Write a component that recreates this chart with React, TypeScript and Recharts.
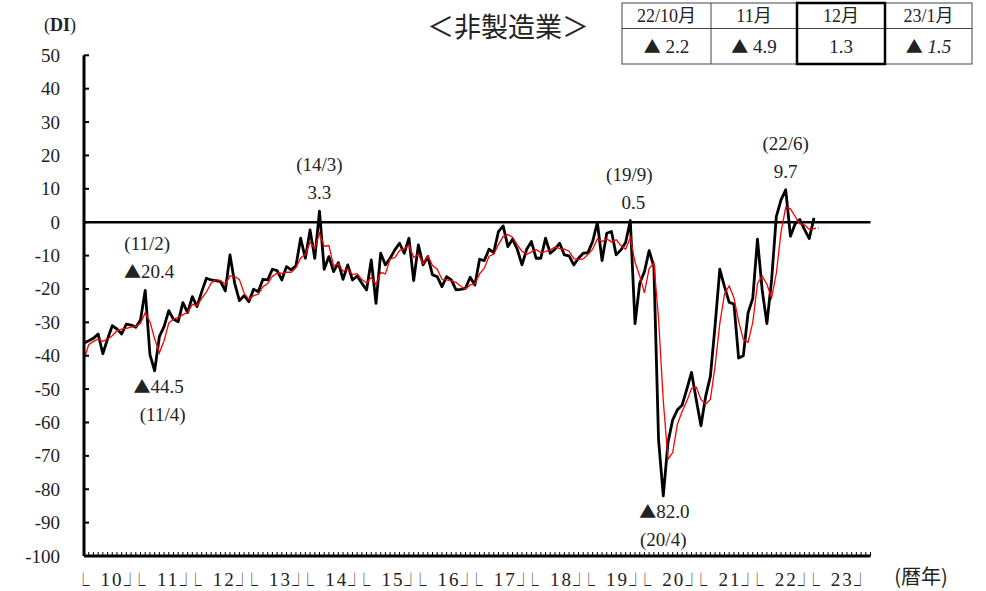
import React from 'react';
import { LineChart, Line, XAxis, YAxis, ReferenceLine, ReferenceDot } from 'recharts';

const W = 986;
const H = 591;
const PLOT_L = 84;
const PLOT_R = 870.5;
const SERIF = "'Liberation Serif', 'DejaVu Serif', 'Noto Sans CJK JP', serif";
const JP = "'Noto Sans CJK JP', sans-serif";

// 暦年ラベル（2010〜2023）
const yearLabels = ['10', '11', '12', '13', '14', '15', '16', '17', '18', '19', '20', '21', '22', '23'];

// 業況判断DI（非製造業）月次：2010/1〜2022/12
const actualDI = [
  -36.2, -35.5, -34.8, -33.5, -39.4, -35.0, -31.0, -32.0, -33.5, -30.5, -30.8, -31.5,
  -29.3, -20.4, -39.7, -44.5, -34.3, -31.3, -26.5, -29.1, -29.8, -24.1, -27.1, -22.3,
  -25.3, -20.8, -16.8, -17.3, -17.5, -17.8, -20.6, -9.8, -18.3, -23.5, -22.0, -23.8,
  -20.1, -20.8, -17.1, -17.3, -14.1, -14.5, -17.3, -13.3, -14.3, -13.1, -4.8, -10.8,
  -2.3, -10.8, 3.3, -14.1, -10.3, -14.8, -12.1, -17.1, -12.8, -17.3, -16.1, -18.3,
  -20.3, -11.3, -24.3, -9.3, -12.8, -10.8, -8.3, -6.3, -9.3, -4.8, -17.5, -6.8,
  -12.8, -10.3, -15.8, -16.3, -19.3, -16.3, -17.3, -20.3, -20.1, -19.8, -16.5, -18.8,
  -11.1, -11.5, -8.1, -9.1, -2.8, -1.1, -7.3, -5.1, -8.1, -12.8, -8.1, -5.8,
  -10.8, -10.8, -4.8, -9.3, -8.1, -6.3, -9.8, -10.1, -12.8, -10.8, -9.3, -9.1,
  -5.8, -0.1, -11.5, -3.3, -2.8, -9.8, -8.3, -6.1, 0.5, -30.4, -18.3, -14.8,
  -8.5, -13.3, -65.2, -82.0, -66.0, -59.2, -56.2, -54.8, -50.0, -45.0, -53.2, -61.0,
  -52.2, -46.2, -31.0, -14.1, -19.3, -24.0, -24.5, -40.7, -40.0, -27.2, -22.8, -5.1,
  -20.3, -30.4, -17.3, 1.7, 6.7, 9.7, -4.2, -0.5, 0.8, -2.2, -4.9, 1.3,
];

// 3か月移動平均（最後の1点は23/1月見通し込み）
const movingAvgDI = [
  -41.0, -36.7, -35.7, -35.0, -35.7, -35.0, -34.0, -32.5, -32.0, -31.8, -31.4, -31.2,
  -30.3, -27.1, -29.8, -34.9, -39.2, -35.5, -30.2, -29.0, -28.5, -27.7, -27.0, -24.6,
  -25.0, -22.8, -20.9, -18.3, -17.2, -17.5, -18.6, -16.1, -16.2, -17.2, -21.3, -23.1,
  -22.0, -21.6, -19.3, -18.4, -16.2, -15.3, -15.3, -15.0, -15.0, -13.6, -10.7, -9.6,
  -6.0, -8.0, -3.3, -7.2, -7.0, -13.1, -12.4, -14.7, -14.0, -15.7, -15.4, -17.2,
  -18.2, -16.6, -18.6, -15.0, -15.5, -11.0, -10.6, -8.5, -8.0, -6.8, -10.5, -9.7,
  -12.4, -10.0, -13.0, -14.1, -17.1, -17.3, -17.6, -18.0, -19.2, -20.1, -18.8, -18.4,
  -15.5, -13.8, -10.2, -9.6, -6.7, -4.3, -3.7, -4.5, -6.8, -8.7, -9.7, -8.9,
  -8.2, -9.1, -8.8, -8.3, -7.4, -7.9, -8.1, -8.7, -10.9, -11.2, -11.0, -9.7,
  -8.1, -5.0, -5.8, -5.0, -5.9, -5.3, -7.0, -8.1, -4.6, -12.0, -16.1, -21.2,
  -13.9, -12.2, -29.0, -53.5, -71.0, -69.0, -60.5, -56.7, -53.6, -49.8, -49.4, -53.1,
  -54.5, -53.1, -43.1, -30.4, -21.5, -19.1, -22.6, -29.7, -35.1, -36.0, -30.0, -18.4,
  -16.1, -18.6, -22.7, -15.3, -3.0, 4.5, 4.0, 1.7, -0.5, -0.8, -2.1, -1.9,
  -1.7,
];

const yTicks = [50, 40, 30, 20, 10, 0, -10, -20, -30, -40, -50, -60, -70, -80, -90, -100];

const tableMonths = ['22/10月', '11月', '12月', '23/1月'];
const tableValues = [-2.2, -4.9, 1.3, -1.5];

// 山・谷の注記（index は 2010/1 からの月数）
const peakNotes = [
  { i: 13, date: '(11/2)', below: false, dx: 4, ddx: 2 },
  { i: 15, date: '(11/4)', below: true, dx: 4, ddx: 8 },
  { i: 50, date: '(14/3)', below: false, dx: 0, ddx: 0 },
  { i: 116, date: '(19/9)', below: false, dx: 3, ddx: -1 },
  { i: 123, date: '(20/4)', below: true, dx: 1, ddx: 0 },
  { i: 149, date: '(22/6)', below: false, dx: 0, ddx: 0 },
];

const MONTHS = 168;
const monthTicks = Array.from({ length: MONTHS }, (_, i) => i);
const last = actualDI.length - 1;
const rows = movingAvgDI.map((a, i) => ({
  i,
  actual: i <= last ? actualDI[i] : null,
  avg: i <= last ? a : null,
  avgFcst: i >= last ? a : null,
}));

// px per month step / per year label slot
const PX_M = (PLOT_R - PLOT_L) / (MONTHS - 1);
const PX_Y = (PLOT_R - PLOT_L) / yearLabels.length;

const Tri = () => <tspan fontFamily={JP} fontSize={17}>▲</tspan>;

const fmt = (v: number) => Math.abs(v).toFixed(1);

const YTick = ({ x, y, payload }: any) => (
  <g>
    <line x1={x} x2={x + 5} y1={y} y2={y} stroke="#000" strokeWidth={2} />
    <text x={x - 24} y={y} dy={6.5} textAnchor="end" fontFamily={SERIF} fontSize={19} fill="#222">
      {payload.value}
    </text>
  </g>
);

const Bracket = ({ x, y, ch }: { x: number; y: number; ch: string }) => (
  <g transform={`translate(${x},${y}) scale(0.85,1.7)`}>
    <text x={0} y={5.7} textAnchor="middle" fontFamily={JP} fontSize={15} fill="#222">
      {ch}
    </text>
  </g>
);

// monthly comb ticks, plus the year label at the start of each year
const MonthTick = ({ x, y, payload }: any) => {
  const i = payload.value;
  const comb = <line x1={x} x2={x} y1={y} y2={y - 4} stroke="#000" strokeWidth={1} />;
  if (i % 12 !== 0) return comb;
  const k = i / 12;
  const xL = x - i * PX_M + k * PX_Y;
  return (
    <g>
      {comb}
      <Bracket x={xL - 1} y={y + 29} ch="└" />
      <text x={xL + 28} y={y + 30} textAnchor="middle" fontFamily={SERIF} fontSize={19} letterSpacing={2} fill="#222">
        {yearLabels[k]}
      </text>
      <Bracket x={xL + 46} y={y + 29} ch="┘" />
    </g>
  );
};

const PeakLabel = ({ cx, cy, note }: any) => {
  const v = actualDI[note.i];
  const vy = note.below ? cy + 22 : cy - 12;
  const dy = note.below ? cy + 50 : cy - 40;
  return (
    <g fontFamily={SERIF} fontSize={19} fill="#222">
      <text x={cx + note.dx} y={vy} textAnchor="middle">
        {v < 0 ? <Tri /> : null}
        {fmt(v)}
      </text>
      <text x={cx + note.ddx} y={dy} textAnchor="middle">{note.date}</text>
    </g>
  );
};

const colX = [622, 711, 797, 885, 972];
const rowY = [3, 28.5, 64];

const SummaryTable = () => (
  <g>
    <rect x={colX[0]} y={rowY[0]} width={colX[4] - colX[0]} height={rowY[2] - rowY[0]} fill="#fff" stroke="#444" strokeWidth={1} />
    <line x1={colX[0]} x2={colX[4]} y1={rowY[1]} y2={rowY[1]} stroke="#444" strokeWidth={1} />
    {colX.slice(1, 4).map((x) => (
      <line key={x} x1={x} x2={x} y1={rowY[0]} y2={rowY[2]} stroke="#444" strokeWidth={1} />
    ))}
    <rect x={colX[2]} y={rowY[0]} width={colX[3] - colX[2]} height={rowY[2] - rowY[0]} fill="none" stroke="#000" strokeWidth={2.5} />
    {tableMonths.map((m, k) => (
      <text key={m} x={(colX[k] + colX[k + 1]) / 2} y={22} textAnchor="middle" fontFamily={SERIF} fontSize={18} fill="#222">
        {m}
      </text>
    ))}
    {tableValues.map((v, k) => (
      <text key={k} x={(colX[k] + colX[k + 1]) / 2} y={53} textAnchor="middle" fontFamily={SERIF} fontSize={19} fill="#222">
        {v < 0 ? <Tri /> : null}
        {v < 0 ? ' ' : ''}
        <tspan fontStyle={k === tableValues.length - 1 ? 'italic' : 'normal'}>{fmt(v)}</tspan>
      </text>
    ))}
  </g>
);

export default function App() {
  return (
    <div style={{ position: 'fixed', left: 0, top: 0, width: W, height: H, background: '#fff' }}>
      <LineChart width={W} height={H} data={rows} margin={{ top: 55.3, right: W - PLOT_R, left: 0, bottom: 0 }}>
        <XAxis
          dataKey="i"
          type="number"
          domain={[0, MONTHS - 1]}
          ticks={monthTicks}
          interval={0}
          tickSize={0}
          tickMargin={0}
          tickLine={false}
          tick={<MonthTick />}
          height={35}
          axisLine={{ stroke: '#000', strokeWidth: 3 }}
          allowDataOverflow
        />
        <YAxis
          type="number"
          domain={[-100, 50]}
          ticks={yTicks}
          interval={0}
          width={PLOT_L}
          tickSize={0}
          tickMargin={0}
          tickLine={false}
          tick={<YTick />}
          axisLine={{ stroke: '#000', strokeWidth: 3 }}
          allowDataOverflow
        />
        <ReferenceLine y={0} stroke="#000" strokeWidth={2.5} />
        <Line
          type="linear"
          dataKey="actual"
          stroke="#000"
          strokeWidth={2.8}
          strokeLinejoin="round"
          dot={false}
          isAnimationActive={false}
        />
        <Line
          type="linear"
          dataKey="avg"
          stroke="#ff0000"
          strokeWidth={1.3}
          dot={false}
          isAnimationActive={false}
        />
        <Line
          type="linear"
          dataKey="avgFcst"
          stroke="#ff0000"
          strokeWidth={1.3}
          strokeDasharray="2 2"
          dot={false}
          isAnimationActive={false}
        />
        {peakNotes.map((n) => (
          <ReferenceDot
            key={n.date}
            x={n.i}
            y={actualDI[n.i]}
            r={0}
            shape={(p: any) => <PeakLabel cx={p.cx} cy={p.cy} note={n} />}
          />
        ))}
      </LineChart>
      <svg width={W} height={H} style={{ position: 'absolute', left: 0, top: 0, pointerEvents: 'none' }}>
        <text x={60} y={31} textAnchor="middle" fontFamily={SERIF} fontSize={18} fill="#222">
          (<tspan fontWeight="bold">DI</tspan>)
        </text>
        <text x={508} y={37} textAnchor="middle" fontFamily={JP} fontSize={27} fill="#222">
          ＜非製造業＞
        </text>
        <text x={921} y={584} textAnchor="middle" fontFamily={JP} fontSize={20} fill="#222">
          (暦年)
        </text>
        <SummaryTable />
      </svg>
    </div>
  );
}
